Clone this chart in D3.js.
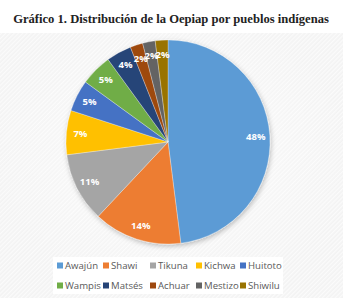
<!DOCTYPE html>
<html><head><meta charset="utf-8">
<script src="https://cdn.jsdelivr.net/npm/d3@7"></script>
<style>html,body{margin:0;padding:0;background:#fff;}svg{display:block;}</style>
</head><body>
<script>
const title = "Gráfico 1. Distribución de la Oepiap por pueblos indígenas";
const categories = ["Awajún","Shawi","Tikuna","Kichwa","Huitoto","Wampis","Matsés","Achuar","Mestizo","Shiwilu"];
const values = [48,14,11,7,5,5,4,2,2,2];
const colors = ["#5B9BD5","#ED7D31","#A5A5A5","#FFC000","#4472C4","#70AD47","#264478","#9E480E","#636363","#997300"];

const W=343,H=298;
const svg=d3.select("body").append("svg").attr("width",W).attr("height",H);
const defs=svg.append("defs");
const pat=defs.append("pattern").attr("id","hatch").attr("width",3).attr("height",3)
  .attr("patternUnits","userSpaceOnUse").attr("patternTransform","rotate(45)");
pat.append("rect").attr("width",3).attr("height",3).attr("fill","#f3f3f3");
pat.append("rect").attr("width",1.3).attr("height",3).attr("fill","#fbfbfb");
const rg=defs.append("radialGradient").attr("id","glow").attr("cx","50%").attr("cy","45%").attr("r","55%");
rg.append("stop").attr("offset","0%").attr("stop-color","#fff").attr("stop-opacity",0.6);
rg.append("stop").attr("offset","100%").attr("stop-color","#fff").attr("stop-opacity",0);
const f=defs.append("filter").attr("id","sh").attr("x","-20%").attr("y","-20%").attr("width","140%").attr("height","140%");
f.append("feDropShadow").attr("dx",1).attr("dy",2).attr("stdDeviation",2.5).attr("flood-color","#000").attr("flood-opacity",0.25);

svg.append("rect").attr("width",W).attr("height",H).attr("fill","url(#hatch)");
svg.append("rect").attr("y",33).attr("width",W).attr("height",H-33).attr("fill","url(#glow)");
svg.append("rect").attr("width",W).attr("height",33).attr("fill","#fff");

svg.append("text").attr("x",171).attr("y",23).attr("text-anchor","middle")
  .attr("font-family","'Liberation Serif','Times New Roman',serif").attr("font-weight","bold")
  .attr("font-size",12.6).attr("fill","#222").text(title);

const cx=168,cy=142,R=102;
const pie=d3.pie().sort(null).value(d=>d)(values);
const arc=d3.arc().innerRadius(0).outerRadius(R);
const lab=d3.arc().innerRadius(88).outerRadius(88);
const g=svg.append("g").attr("transform",`translate(${cx},${cy})`);
g.append("g").attr("filter","url(#sh)").selectAll("path").data(pie).join("path")
  .attr("d",arc).attr("fill",(d,i)=>colors[i]).attr("stroke","#fff").attr("stroke-width",0.3);
g.selectAll("text").data(pie).join("text")
  .attr("transform",d=>`translate(${lab.centroid(d)})`)
  .attr("text-anchor","middle").attr("dy","0.35em")
  .attr("font-family","'Open Sans','Liberation Sans',sans-serif").attr("font-weight","bold")
  .attr("font-size",9.5).attr("fill","#fff").text(d=>d.value+"%");

// legend
const lg=svg.append("g");
lg.append("rect").attr("x",53).attr("y",257).attr("width",230).attr("height",37).attr("fill","#fff");
const xs=[57,103,150,196,240], ys=[266,286];
categories.forEach((c,i)=>{
  const x=xs[i%5], y=ys[Math.floor(i/5)];
  lg.append("rect").attr("x",x).attr("y",y-3.5).attr("width",6).attr("height",6).attr("fill",colors[i]);
  lg.append("text").attr("x",x+8).attr("y",y).attr("dy","0.35em")
    .attr("font-family","'Open Sans','Liberation Sans',sans-serif").attr("font-size",9.6)
    .attr("fill","#595959").text(c);
});
</script>
</body></html>
